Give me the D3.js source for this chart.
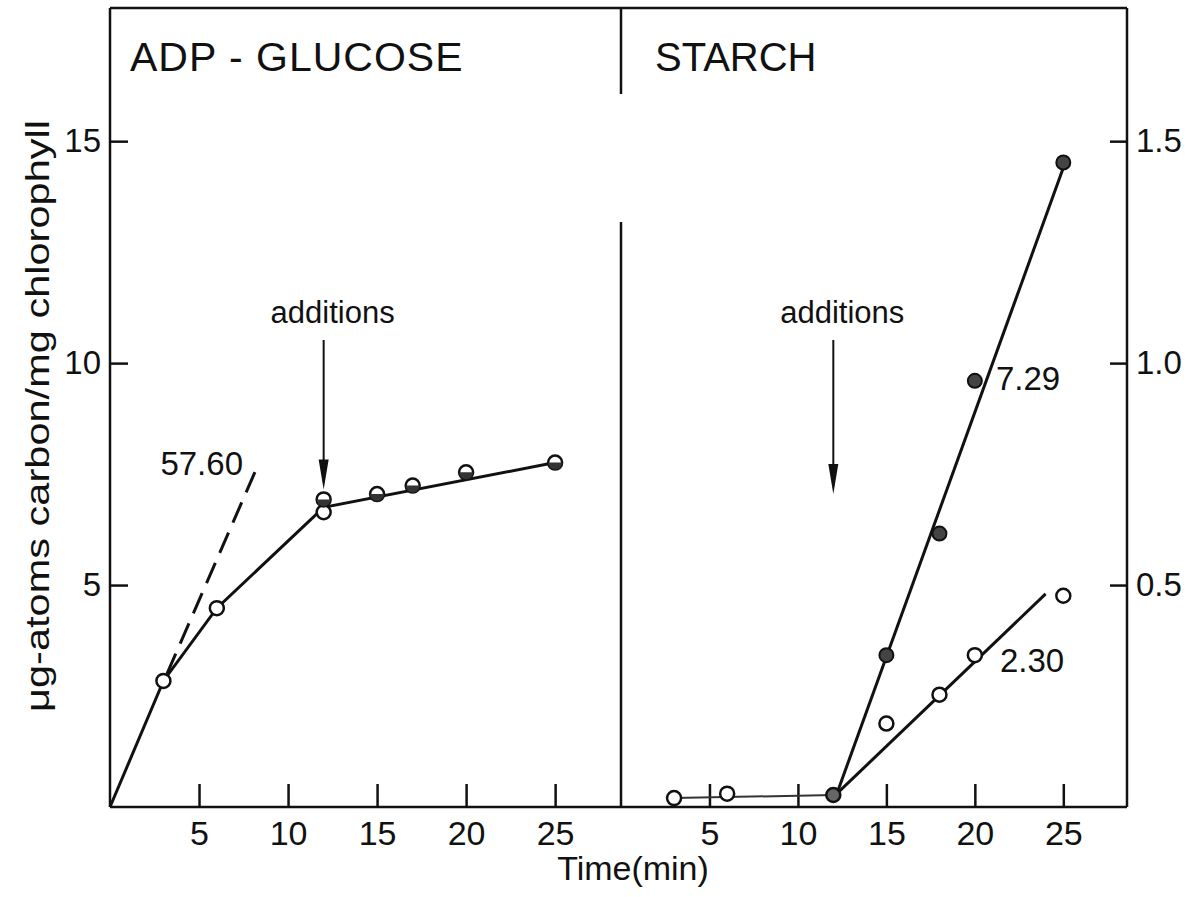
<!DOCTYPE html>
<html>
<head>
<meta charset="utf-8">
<script src="https://cdn.jsdelivr.net/npm/d3@7"></script>
<style>
  html, body { margin: 0; padding: 0; background: #fff; }
  svg { display: block; }
  text { font-family: "Liberation Sans", Arial, sans-serif; fill: #111; }
</style>
</head>
<body>
<svg id="chart" width="1197" height="897"></svg>
<script>
// ---------------- data ----------------
const xTickValues = [5, 10, 15, 20, 25];
const leftTickValues = [5, 10, 15];
const rightTickValues = [0.5, 1.0, 1.5];

// ADP-glucose panel (left axis, µg-atoms C / mg chlorophyll)
const adpTime   = [3, 6, 12, 12, 15, 17, 20, 25];
const adpValue  = [2.84, 4.48, 6.64, 6.93, 7.05, 7.24, 7.54, 7.76];
const adpMarker = ["open", "open", "open", "half", "half", "half", "half", "half"];
const adpLineTime  = [0, 3, 6, 12, 25];
const adpLineValue = [0, 2.84, 4.48, 6.75, 7.76];
const adpRateTime  = [3.2, 8.2];
const adpRateValue = [3.0, 7.6];
const adpRateLabel = "57.60";

// Starch panel (right axis)
const starchPreTime  = [3, 6, 12];
const starchPreValue = [0.02, 0.03, 0.027];
const starchPreLineTime  = [3, 12];
const starchPreLineValue = [0.02, 0.027];
const starchFilledTime  = [15, 18, 20, 25];
const starchFilledValue = [0.342, 0.616, 0.96, 1.452];
const starchFilledLineTime  = [12.2, 25];
const starchFilledLineValue = [0.03, 1.44];
const starchFilledLabel = "7.29";
const starchOpenTime  = [15, 18, 20, 25];
const starchOpenValue = [0.188, 0.253, 0.342, 0.476];
const starchOpenLineTime  = [12.2, 24];
const starchOpenLineValue = [0.03, 0.48];
const starchOpenLabel = "2.30";

const additionTime = 12;
const panelTitles = ["ADP - GLUCOSE", "STARCH"];

// ---------------- layout ----------------
const svg = d3.select("#chart");
const L = 110, D = 621, R = 1127, T = 8, B = 807;
const xL = d3.scaleLinear().domain([0, 28.7]).range([L, D]);
const xR = d3.scaleLinear().domain([0, 28.6]).range([D, R]);
const yL = d3.scaleLinear().domain([0, 18]).range([B, T]);
const yR = d3.scaleLinear().domain([0, 1.8]).range([B, T]);
const ink = "#111";

// frame
const frame = svg.append("g").attr("stroke", ink).attr("stroke-width", 2.5).attr("fill", "none");
frame.append("line").attr("x1", L).attr("x2", R).attr("y1", T).attr("y2", T);
frame.append("line").attr("x1", L).attr("x2", R).attr("y1", B).attr("y2", B);
frame.append("line").attr("x1", L).attr("x2", L).attr("y1", T).attr("y2", B);
frame.append("line").attr("x1", R).attr("x2", R).attr("y1", T).attr("y2", B);
frame.append("line").attr("x1", D).attr("x2", D).attr("y1", T).attr("y2", 94);
frame.append("line").attr("x1", D).attr("x2", D).attr("y1", 222).attr("y2", B);

function styleAxis(g, size) {
  g.select(".domain").remove();
  g.selectAll(".tick line").attr("stroke", ink).attr("stroke-width", 2.5);
  g.selectAll(".tick text").style("font-size", size + "px").attr("fill", ink);
}

// x axes
svg.append("g").attr("transform", `translate(0,${B})`)
  .call(d3.axisBottom(xL).tickValues(xTickValues).tickSize(-23).tickSizeOuter(0).tickPadding(14))
  .call(g => styleAxis(g, 34));
svg.append("g").attr("transform", `translate(0,${B})`)
  .call(d3.axisBottom(xR).tickValues(xTickValues).tickSize(-23).tickSizeOuter(0).tickPadding(14))
  .call(g => styleAxis(g, 34));

// y axes
svg.append("g").attr("transform", `translate(${L},0)`)
  .call(d3.axisLeft(yL).tickValues(leftTickValues).tickSize(-18).tickSizeOuter(0).tickPadding(9))
  .call(g => styleAxis(g, 33));
svg.append("g").attr("transform", `translate(${R},0)`)
  .call(d3.axisRight(yR).tickValues(rightTickValues).tickFormat(d3.format(".1f")).tickSize(-17).tickSizeOuter(0).tickPadding(9))
  .call(g => styleAxis(g, 33));

// axis titles
svg.append("text").attr("x", 633).attr("y", 880).attr("text-anchor", "middle")
  .style("font-size", "34px").text("Time(min)");
svg.append("text").attr("transform", "translate(49,416) rotate(-90)").attr("text-anchor", "middle")
  .attr("textLength", 592).attr("lengthAdjust", "spacingAndGlyphs")
  .style("font-size", "33px").text("μg-atoms carbon/mg chlorophyll");

// panel titles
svg.append("text").attr("x", 130).attr("y", 71).style("font-size", "41px").style("letter-spacing", "1px").text(panelTitles[0]);
svg.append("text").attr("x", 655).attr("y", 71).style("font-size", "40px").text(panelTitles[1]);

// ---------------- ADP-glucose panel ----------------
const lineL = d3.line().x(d => xL(d[0])).y(d => yL(d[1]));
const lineR = d3.line().x(d => xR(d[0])).y(d => yR(d[1]));

svg.append("path").attr("d", lineL(d3.zip(adpLineTime, adpLineValue)))
  .attr("fill", "none").attr("stroke", ink).attr("stroke-width", 3);
svg.append("path").attr("d", lineL(d3.zip(adpRateTime, adpRateValue)))
  .attr("fill", "none").attr("stroke", ink).attr("stroke-width", 3).attr("stroke-dasharray", "22,11");
svg.append("text").attr("x", xL(adpRateTime[1]) - 13).attr("y", yL(adpRateValue[1]) + 5)
  .attr("text-anchor", "end").style("font-size", "33px").text(adpRateLabel);

const rM = 7;
const halfArc = d3.arc().innerRadius(0).outerRadius(rM).startAngle(Math.PI / 2).endAngle(3 * Math.PI / 2);
const adpPts = d3.zip(adpTime, adpValue, adpMarker);
const gA = svg.append("g");
gA.selectAll("circle").data(adpPts).join("circle")
  .attr("cx", d => xL(d[0])).attr("cy", d => yL(d[1])).attr("r", rM)
  .attr("fill", "#fff").attr("stroke", ink).attr("stroke-width", 2.5);
gA.selectAll("path").data(adpPts.filter(d => d[2] === "half")).join("path")
  .attr("transform", d => `translate(${xL(d[0])},${yL(d[1])})`)
  .attr("d", halfArc()).attr("fill", "#333");

// ---------------- Starch panel ----------------
svg.append("path").attr("d", lineR(d3.zip(starchPreLineTime, starchPreLineValue)))
  .attr("fill", "none").attr("stroke", "#333").attr("stroke-width", 2);
svg.append("path").attr("d", lineR(d3.zip(starchFilledLineTime, starchFilledLineValue)))
  .attr("fill", "none").attr("stroke", ink).attr("stroke-width", 3);
svg.append("path").attr("d", lineR(d3.zip(starchOpenLineTime, starchOpenLineValue)))
  .attr("fill", "none").attr("stroke", ink).attr("stroke-width", 3);

const gS = svg.append("g");
gS.selectAll("circle.pre").data(d3.zip(starchPreTime, starchPreValue)).join("circle")
  .attr("class", "pre").attr("cx", d => xR(d[0])).attr("cy", d => yR(d[1])).attr("r", rM)
  .attr("fill", (d, i) => i === 2 ? "#666" : "#fff").attr("stroke", ink).attr("stroke-width", 2.5);
gS.selectAll("circle.open").data(d3.zip(starchOpenTime, starchOpenValue)).join("circle")
  .attr("class", "open").attr("cx", d => xR(d[0])).attr("cy", d => yR(d[1])).attr("r", rM)
  .attr("fill", "#fff").attr("stroke", ink).attr("stroke-width", 2.5);
gS.selectAll("circle.filled").data(d3.zip(starchFilledTime, starchFilledValue)).join("circle")
  .attr("class", "filled").attr("cx", d => xR(d[0])).attr("cy", d => yR(d[1])).attr("r", rM)
  .attr("fill", "#444").attr("stroke", ink).attr("stroke-width", 2);

svg.append("text").attr("x", 996).attr("y", 390).style("font-size", "33px").text(starchFilledLabel);
svg.append("text").attr("x", 1000).attr("y", 672).style("font-size", "33px").text(starchOpenLabel);

// ---------------- "additions" arrows ----------------
function addArrow(x, yTipValue, yScale) {
  const tip = yScale(yTipValue);
  svg.append("text").attr("x", x + 9).attr("y", 323).attr("text-anchor", "middle")
    .style("font-size", "31px").text("additions");
  svg.append("line").attr("x1", x).attr("x2", x).attr("y1", 340).attr("y2", tip - 8)
    .attr("stroke", ink).attr("stroke-width", 2);
  svg.append("path").attr("d", `M${x - 5},${tip - 30}L${x + 5},${tip - 30}L${x},${tip}Z`)
    .attr("fill", ink);
}
addArrow(xL(additionTime), 7.15, yL);
addArrow(xR(additionTime), 0.705, yR);
</script>
</body>
</html>
